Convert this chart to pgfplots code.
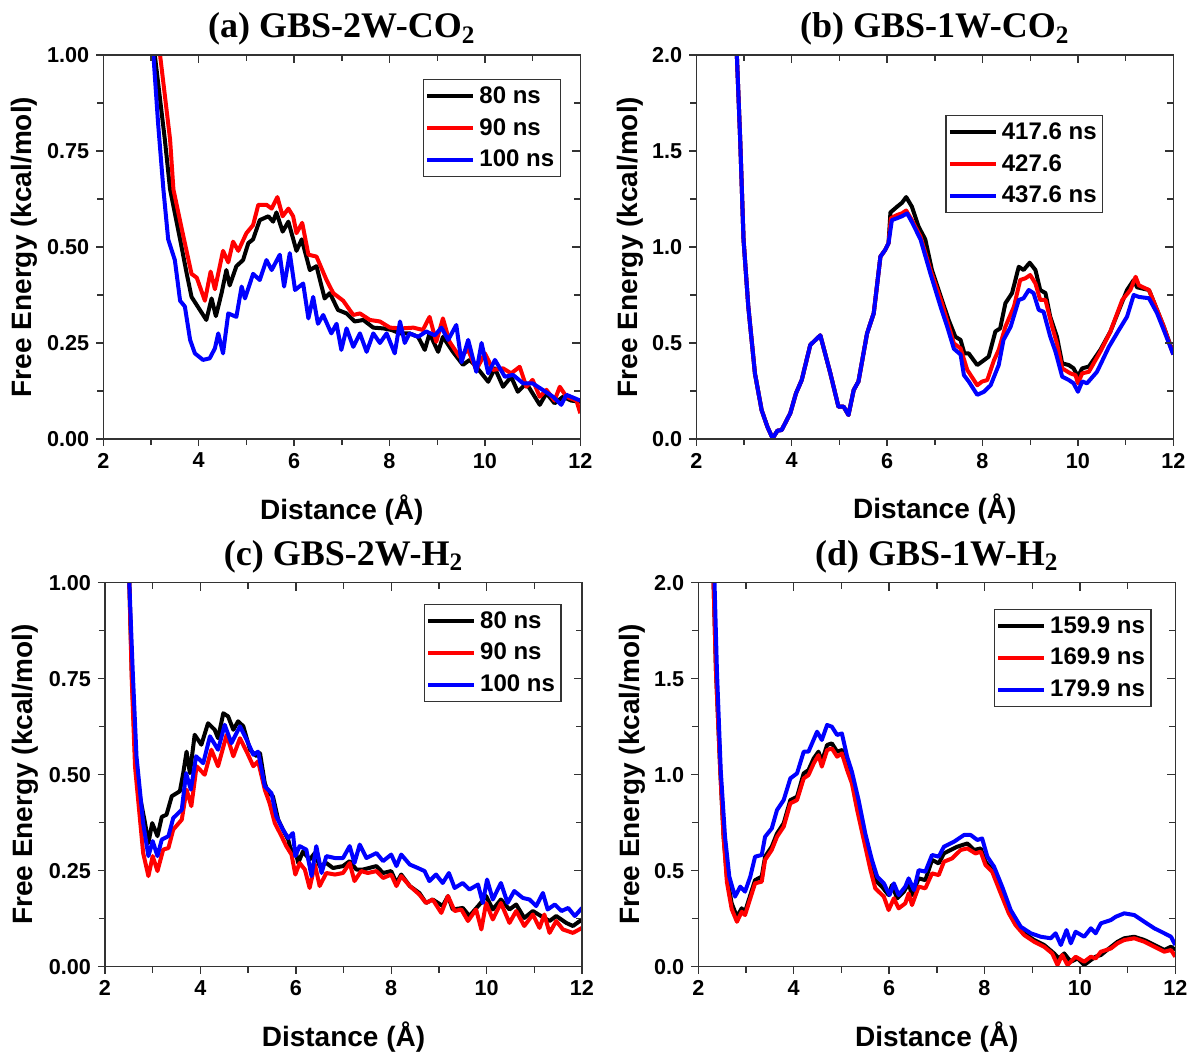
\documentclass[border=0pt]{standalone}
\usepackage{fontspec}
\setmainfont{Liberation Serif}
\setsansfont{Liberation Sans}
\usepackage{pgfplots}
\pgfplotsset{compat=1.18}
\pgfplotsset{
  base/.style={scale only axis, width=238.5pt, height=192pt, xmin=2, xmax=12,
    xtick={2,4,6,8,10,12}, minor x tick num=1, minor y tick num=1,
    axis line style={black!80, line width=0.7pt},
    every tick/.style={black!80, line width=0.7pt},
    major tick length=3.5pt, minor tick length=3pt},
  main/.style={base, tick align=outside, xtick pos=left, ytick pos=left,
    ticklabel style={font=\sffamily\bfseries\fontsize{10.8}{12}\selectfont},
    /pgf/number format/assume math mode=true,
    xlabel={Distance (Å)}, ylabel={Free Energy (kcal/mol)},
    label style={font=\sffamily\bfseries\fontsize{14}{16}\selectfont},
    xlabel style={at={(axis description cs:0.5,0)}, anchor=base, yshift=-40pt},
    title style={font=\bfseries\fontsize{18}{20}\selectfont, at={(axis description cs:0.5,1)}, anchor=base, yshift=2.5pt},
    legend cell align=left,
    legend style={draw=black!80, line width=0.6pt, font=\sffamily\bfseries\fontsize{12}{14}\selectfont,
      anchor=north west, inner xsep=1pt, inner ysep=1.5pt, row sep=2pt},
    legend image code/.code={\draw[#1] (0pt,0pt) -- (23pt,0pt);},
    every axis plot/.append style={line width=2pt, line join=round}},
  mirror/.style={base, tick align=inside, xtick pos=right, ytick pos=right,
    xticklabels={}, yticklabels={}, major tick length=4pt},
  twod/.style={ymin=0, ymax=1, ytick={0,0.25,0.5,0.75,1},
    yticklabel style={/pgf/number format/.cd, fixed, fixed zerofill, precision=2}},
  oned/.style={ymin=0, ymax=2, ytick={0,0.5,1,1.5,2},
    yticklabel style={/pgf/number format/.cd, fixed, fixed zerofill, precision=1}},
}
\begin{document}
\begin{tikzpicture}
\path[use as bounding box] (0pt,0pt) rectangle (595pt,-526.5pt);
% ---------------- (a)
\begin{axis}[main, twod, at={(51.65pt,-27.5pt)}, anchor=north west,
  title={(a) GBS-2W-CO\textsubscript{2}},
  ylabel style={at={(axis description cs:-0.165,0.5)}, anchor=center},
  legend style={at={(0.67,0.9375)}}]
\addplot[black] coordinates {(3.06,1.05) (3.08,1.0) (3.29,0.78) (3.40,0.65) (3.61,0.52) (3.75,0.43) (3.85,0.37) (4.16,0.31) (4.27,0.366) (4.36,0.32) (4.48,0.38) (4.58,0.44) (4.65,0.40) (4.79,0.45) (4.93,0.466) (5.04,0.51) (5.14,0.52) (5.28,0.57) (5.46,0.58) (5.56,0.566) (5.63,0.59) (5.76,0.54) (5.88,0.566) (6.05,0.49) (6.16,0.52) (6.33,0.44) (6.47,0.45) (6.64,0.366) (6.75,0.38) (6.92,0.336) (7.10,0.327) (7.27,0.306) (7.45,0.31) (7.66,0.29) (7.87,0.288) (8.04,0.284) (8.22,0.275) (8.42,0.275) (8.60,0.266) (8.74,0.232) (8.84,0.275) (9.02,0.227) (9.12,0.266) (9.33,0.227) (9.54,0.193) (9.68,0.206) (9.82,0.188) (10.07,0.149) (10.21,0.184) (10.38,0.136) (10.55,0.162) (10.69,0.123) (10.87,0.145) (11.0,0.119) (11.15,0.089) (11.29,0.119) (11.46,0.093) (11.64,0.11) (11.81,0.10) (12.0,0.097)};
\addlegendentry{80 ns}
\addplot[red] coordinates {(3.17,1.05) (3.19,1.0) (3.40,0.78) (3.47,0.65) (3.64,0.55) (3.85,0.43) (3.96,0.42) (4.13,0.36) (4.25,0.436) (4.34,0.39) (4.51,0.49) (4.62,0.46) (4.72,0.514) (4.83,0.49) (5.0,0.536) (5.14,0.557) (5.25,0.61) (5.42,0.61) (5.53,0.60) (5.65,0.63) (5.76,0.58) (5.88,0.60) (5.98,0.58) (6.05,0.536) (6.17,0.563) (6.30,0.48) (6.47,0.475) (6.68,0.414) (6.82,0.38) (7.03,0.36) (7.24,0.323) (7.38,0.327) (7.59,0.31) (7.80,0.306) (8.01,0.29) (8.26,0.288) (8.50,0.29) (8.70,0.284) (8.84,0.318) (8.98,0.253) (9.12,0.314) (9.26,0.253) (9.47,0.214) (9.65,0.232) (9.82,0.18) (10.0,0.223) (10.17,0.18) (10.38,0.184) (10.55,0.171) (10.73,0.188) (10.87,0.136) (11.0,0.154) (11.15,0.11) (11.29,0.128) (11.46,0.10) (11.57,0.136) (11.71,0.11) (11.92,0.10) (12.0,0.067)};
\addlegendentry{90 ns}
\addplot[blue] coordinates {(3.04,1.05) (3.05,1.0) (3.15,0.82) (3.26,0.65) (3.36,0.52) (3.50,0.466) (3.61,0.36) (3.71,0.345) (3.82,0.258) (3.92,0.223) (4.09,0.206) (4.23,0.21) (4.34,0.236) (4.41,0.275) (4.51,0.223) (4.62,0.327) (4.79,0.318) (4.90,0.397) (4.97,0.366) (5.14,0.43) (5.28,0.414) (5.42,0.466) (5.53,0.44) (5.70,0.48) (5.79,0.397) (5.91,0.484) (6.02,0.388) (6.19,0.405) (6.30,0.314) (6.40,0.37) (6.50,0.30) (6.61,0.323) (6.78,0.275) (6.89,0.30) (6.99,0.232) (7.10,0.288) (7.24,0.24) (7.38,0.275) (7.52,0.227) (7.66,0.275) (7.80,0.25) (7.94,0.275) (8.11,0.223) (8.22,0.306) (8.32,0.25) (8.42,0.275) (8.60,0.266) (8.77,0.28) (8.95,0.27) (9.09,0.29) (9.23,0.258) (9.40,0.297) (9.51,0.20) (9.65,0.258) (9.82,0.175) (9.93,0.25) (10.07,0.171) (10.21,0.206) (10.42,0.162) (10.59,0.167) (10.80,0.145) (11.0,0.145) (11.21,0.128) (11.43,0.11) (11.60,0.089) (11.71,0.115) (12.0,0.10)};
\addlegendentry{100 ns}
\end{axis}
\begin{axis}[mirror, twod, at={(51.65pt,-27.5pt)}, anchor=north west]
\end{axis}
% ---------------- (b)
\begin{axis}[main, oned, at={(348.15pt,-27.5pt)}, anchor=north west,
  title={(b) GBS-1W-CO\textsubscript{2}},
  ylabel style={at={(axis description cs:-0.139,0.5)}, anchor=center},
  legend style={at={(0.522,0.844)}}]
\addplot[black] coordinates {(2.84,2.1) (2.85,2.0) (2.92,1.56) (2.99,1.04) (3.09,0.69) (3.23,0.34) (3.37,0.15) (3.49,0.064) (3.60,0.003) (3.70,0.043) (3.79,0.047) (3.97,0.134) (4.09,0.238) (4.21,0.307) (4.39,0.49) (4.60,0.54) (4.81,0.342) (4.98,0.168) (5.09,0.168) (5.19,0.125) (5.30,0.255) (5.40,0.30) (5.58,0.55) (5.72,0.655) (5.86,0.95) (5.96,0.985) (6.03,1.02) (6.07,1.18) (6.21,1.21) (6.31,1.23) (6.40,1.26) (6.52,1.21) (6.66,1.106) (6.80,1.04) (6.94,0.88) (7.15,0.724) (7.29,0.62) (7.43,0.533) (7.54,0.516) (7.62,0.446) (7.71,0.446) (7.89,0.385) (7.99,0.403) (8.13,0.429) (8.27,0.56) (8.37,0.576) (8.48,0.707) (8.62,0.76) (8.76,0.897) (8.86,0.88) (8.99,0.918) (9.11,0.88) (9.21,0.776) (9.32,0.76) (9.42,0.637) (9.56,0.533) (9.67,0.394) (9.81,0.385) (9.91,0.368) (10.0,0.325) (10.09,0.368) (10.23,0.377) (10.47,0.464) (10.68,0.559) (10.89,0.69) (11.03,0.776) (11.17,0.828) (11.24,0.79) (11.49,0.776) (11.66,0.672) (11.80,0.585) (12.0,0.446)};
\addlegendentry{417.6 ns}
\addplot[red] coordinates {(2.84,2.1) (2.85,2.0) (2.92,1.56) (2.99,1.04) (3.09,0.69) (3.23,0.34) (3.37,0.15) (3.49,0.064) (3.60,0.003) (3.70,0.043) (3.79,0.047) (3.97,0.134) (4.09,0.238) (4.21,0.307) (4.39,0.49) (4.60,0.54) (4.81,0.342) (4.98,0.168) (5.09,0.168) (5.19,0.125) (5.30,0.255) (5.40,0.30) (5.58,0.55) (5.72,0.655) (5.86,0.95) (5.96,0.985) (6.03,1.02) (6.08,1.15) (6.21,1.167) (6.31,1.175) (6.40,1.19) (6.52,1.14) (6.70,1.054) (6.91,0.88) (7.15,0.707) (7.40,0.498) (7.54,0.472) (7.68,0.36) (7.89,0.28) (7.99,0.299) (8.10,0.307) (8.24,0.41) (8.34,0.464) (8.48,0.585) (8.66,0.69) (8.79,0.828) (8.90,0.837) (9.00,0.854) (9.11,0.81) (9.21,0.724) (9.32,0.724) (9.46,0.585) (9.56,0.498) (9.67,0.368) (9.84,0.342) (9.95,0.333) (10.0,0.29) (10.09,0.342) (10.23,0.35) (10.47,0.455) (10.68,0.559) (10.93,0.724) (11.10,0.776) (11.21,0.845) (11.28,0.80) (11.49,0.776) (11.66,0.672) (11.80,0.585) (12.0,0.44)};
\addlegendentry{427.6}
\addplot[blue] coordinates {(2.84,2.1) (2.85,2.0) (2.92,1.56) (2.99,1.04) (3.09,0.69) (3.23,0.34) (3.37,0.15) (3.49,0.064) (3.60,0.003) (3.70,0.043) (3.79,0.047) (3.97,0.134) (4.09,0.238) (4.21,0.307) (4.39,0.49) (4.60,0.54) (4.81,0.342) (4.98,0.168) (5.09,0.168) (5.19,0.125) (5.30,0.255) (5.40,0.30) (5.58,0.55) (5.72,0.655) (5.86,0.95) (5.96,0.985) (6.03,1.02) (6.10,1.14) (6.21,1.15) (6.31,1.16) (6.42,1.175) (6.52,1.13) (6.70,1.04) (6.91,0.86) (7.12,0.69) (7.26,0.585) (7.40,0.47) (7.54,0.44) (7.61,0.333) (7.71,0.30) (7.89,0.23) (8.03,0.246) (8.17,0.28) (8.27,0.342) (8.34,0.385) (8.44,0.516) (8.59,0.585) (8.76,0.724) (8.86,0.733) (8.97,0.776) (9.07,0.76) (9.18,0.672) (9.28,0.663) (9.42,0.533) (9.53,0.455) (9.67,0.325) (9.81,0.307) (9.91,0.29) (10.0,0.246) (10.09,0.30) (10.19,0.29) (10.40,0.35) (10.65,0.48) (10.86,0.568) (11.03,0.637) (11.17,0.75) (11.28,0.74) (11.49,0.733) (11.66,0.655) (11.80,0.568) (12.0,0.44)};
\addlegendentry{437.6 ns}
\end{axis}
\begin{axis}[mirror, oned, at={(348.15pt,-27.5pt)}, anchor=north west]
\end{axis}
% ---------------- (c)
\begin{axis}[main, twod, at={(52.5pt,-291.35pt)}, anchor=north west,
  title={(c) GBS-2W-H\textsubscript{2}},
  ylabel style={at={(axis description cs:-0.167,0.5)}, anchor=center},
  legend style={at={(0.668,0.945)}}]
\addplot[black] coordinates {(2.50,1.05) (2.51,1.0) (2.56,0.773) (2.63,0.556) (2.73,0.444) (2.84,0.374) (2.91,0.322) (2.99,0.374) (3.10,0.34) (3.19,0.39) (3.29,0.396) (3.40,0.444) (3.57,0.457) (3.64,0.504) (3.71,0.56) (3.78,0.504) (3.88,0.604) (4.02,0.578) (4.16,0.634) (4.30,0.617) (4.37,0.595) (4.48,0.66) (4.58,0.652) (4.69,0.617) (4.79,0.639) (4.90,0.626) (5.04,0.565) (5.18,0.548) (5.25,0.556) (5.35,0.478) (5.42,0.452) (5.52,0.444) (5.63,0.383) (5.73,0.357) (5.84,0.331) (5.91,0.296) (5.98,0.309) (6.05,0.27) (6.15,0.30) (6.29,0.279) (6.40,0.296) (6.50,0.262) (6.64,0.27) (6.78,0.257) (6.99,0.262) (7.13,0.275) (7.27,0.253) (7.41,0.253) (7.69,0.262) (7.83,0.244) (8.0,0.249) (8.11,0.218) (8.21,0.24) (8.39,0.21) (8.59,0.192) (8.73,0.166) (8.87,0.175) (9.08,0.158) (9.19,0.184) (9.29,0.149) (9.50,0.153) (9.64,0.132) (9.85,0.162) (9.99,0.184) (10.13,0.149) (10.30,0.175) (10.48,0.149) (10.62,0.162) (10.79,0.127) (10.97,0.145) (11.14,0.132) (11.32,0.119) (11.46,0.132) (11.67,0.114) (11.81,0.106) (12.0,0.123)};
\addlegendentry{80 ns}
\addplot[red] coordinates {(2.50,1.05) (2.51,1.0) (2.56,0.75) (2.63,0.52) (2.80,0.296) (2.91,0.236) (3.0,0.288) (3.10,0.249) (3.22,0.305) (3.33,0.309) (3.43,0.357) (3.61,0.383) (3.71,0.461) (3.81,0.418) (3.92,0.522) (4.09,0.50) (4.23,0.565) (4.37,0.522) (4.55,0.604) (4.69,0.548) (4.83,0.595) (4.97,0.56) (5.11,0.522) (5.21,0.535) (5.35,0.461) (5.45,0.426) (5.56,0.374) (5.70,0.34) (5.80,0.314) (5.91,0.292) (5.99,0.24) (6.08,0.27) (6.19,0.253) (6.29,0.205) (6.40,0.266) (6.50,0.21) (6.64,0.244) (6.82,0.24) (6.99,0.244) (7.13,0.27) (7.23,0.223) (7.37,0.249) (7.51,0.244) (7.69,0.249) (7.83,0.231) (8.0,0.24) (8.11,0.21) (8.21,0.236) (8.39,0.21) (8.59,0.188) (8.73,0.166) (8.87,0.175) (9.05,0.14) (9.19,0.184) (9.33,0.145) (9.47,0.149) (9.61,0.119) (9.78,0.149) (9.89,0.097) (9.99,0.166) (10.13,0.123) (10.30,0.166) (10.48,0.114) (10.62,0.145) (10.79,0.106) (10.97,0.136) (11.11,0.101) (11.21,0.136) (11.32,0.088) (11.46,0.119) (11.60,0.097) (11.81,0.088) (12.0,0.101)};
\addlegendentry{90 ns}
\addplot[blue] coordinates {(2.50,1.05) (2.51,1.0) (2.58,0.773) (2.66,0.548) (2.80,0.374) (2.91,0.288) (3.0,0.327) (3.10,0.288) (3.19,0.331) (3.33,0.34) (3.43,0.387) (3.61,0.409) (3.70,0.504) (3.80,0.461) (3.91,0.548) (4.06,0.53) (4.20,0.60) (4.37,0.565) (4.51,0.63) (4.65,0.582) (4.83,0.626) (4.97,0.591) (5.11,0.552) (5.21,0.56) (5.35,0.47) (5.49,0.452) (5.59,0.392) (5.73,0.357) (5.84,0.335) (5.94,0.348) (5.99,0.288) (6.08,0.314) (6.22,0.305) (6.33,0.236) (6.43,0.314) (6.54,0.244) (6.64,0.288) (6.82,0.283) (6.99,0.283) (7.13,0.314) (7.23,0.27) (7.34,0.318) (7.48,0.283) (7.69,0.296) (7.83,0.275) (8.0,0.292) (8.11,0.262) (8.21,0.292) (8.39,0.266) (8.56,0.257) (8.70,0.249) (8.80,0.223) (8.94,0.24) (9.08,0.218) (9.21,0.244) (9.33,0.205) (9.50,0.218) (9.64,0.201) (9.82,0.214) (9.92,0.166) (10.01,0.227) (10.13,0.175) (10.30,0.218) (10.44,0.166) (10.58,0.197) (10.76,0.179) (10.90,0.175) (11.04,0.158) (11.18,0.192) (11.28,0.149) (11.43,0.162) (11.57,0.145) (11.71,0.153) (11.85,0.132) (12.0,0.153)};
\addlegendentry{100 ns}
\end{axis}
\begin{axis}[mirror, twod, at={(52.5pt,-291.35pt)}, anchor=north west]
\end{axis}
% ---------------- (d)
\begin{axis}[main, oned, at={(349.15pt,-291.35pt)}, anchor=north west,
  title={(d) GBS-1W-H\textsubscript{2}},
  ylabel style={at={(axis description cs:-0.139,0.5)}, anchor=center},
  legend style={at={(0.619,0.932)}}]
\addplot[black] coordinates {(2.31,2.1) (2.32,2.0) (2.37,1.545) (2.46,1.024) (2.53,0.677) (2.60,0.469) (2.70,0.33) (2.81,0.26) (2.91,0.304) (2.98,0.286) (3.09,0.373) (3.19,0.451) (3.33,0.469) (3.40,0.573) (3.54,0.625) (3.65,0.694) (3.79,0.747) (3.93,0.868) (4.07,0.885) (4.21,1.007) (4.31,1.024) (4.42,1.085) (4.52,1.12) (4.59,1.068) (4.70,1.155) (4.80,1.163) (4.91,1.12) (5.01,1.128) (5.12,1.042) (5.22,0.99) (5.33,0.851) (5.47,0.694) (5.61,0.573) (5.71,0.451) (5.85,0.417) (5.99,0.373) (6.06,0.425) (6.17,0.356) (6.31,0.391) (6.41,0.434) (6.48,0.373) (6.62,0.46) (6.76,0.451) (6.90,0.556) (7.04,0.538) (7.15,0.59) (7.29,0.608) (7.43,0.625) (7.64,0.642) (7.78,0.608) (7.92,0.616) (8.02,0.547) (8.16,0.503) (8.34,0.399) (8.51,0.295) (8.65,0.226) (8.83,0.174) (9.04,0.139) (9.25,0.113) (9.46,0.069) (9.56,0.043) (9.67,0.069) (9.81,0.026) (9.95,0.043) (10.09,0.009) (10.23,0.035) (10.33,0.052) (10.44,0.061) (10.61,0.095) (10.79,0.13) (10.93,0.148) (11.14,0.156) (11.35,0.139) (11.56,0.113) (11.77,0.087) (11.91,0.104) (12.0,0.087)};
\addlegendentry{159.9 ns}
\addplot[red] coordinates {(2.31,2.1) (2.32,2.0) (2.37,1.545) (2.46,1.024) (2.53,0.677) (2.60,0.44) (2.70,0.30) (2.81,0.234) (2.91,0.286) (2.98,0.269) (3.09,0.356) (3.19,0.434) (3.33,0.443) (3.40,0.556) (3.54,0.608) (3.65,0.677) (3.79,0.729) (3.93,0.851) (4.07,0.868) (4.21,0.981) (4.31,0.998) (4.42,1.059) (4.52,1.102) (4.59,1.042) (4.70,1.128) (4.80,1.137) (4.91,1.094) (5.01,1.111) (5.12,1.024) (5.22,0.955) (5.33,0.816) (5.47,0.66) (5.61,0.503) (5.71,0.408) (5.89,0.365) (5.99,0.295) (6.10,0.356) (6.20,0.304) (6.34,0.33) (6.41,0.382) (6.48,0.321) (6.62,0.417) (6.76,0.408) (6.90,0.486) (7.04,0.477) (7.15,0.547) (7.32,0.564) (7.50,0.608) (7.64,0.616) (7.81,0.59) (7.92,0.599) (8.02,0.53) (8.16,0.495) (8.34,0.382) (8.51,0.278) (8.65,0.217) (8.83,0.165) (9.04,0.13) (9.25,0.104) (9.42,0.069) (9.53,0.009) (9.63,0.061) (9.74,0.009) (9.91,0.052) (10.09,0.026) (10.23,0.052) (10.33,0.043) (10.44,0.078) (10.65,0.095) (10.79,0.122) (10.93,0.139) (11.14,0.148) (11.35,0.13) (11.56,0.104) (11.77,0.078) (11.91,0.087) (12.0,0.052)};
\addlegendentry{169.9 ns}
\addplot[blue] coordinates {(2.33,2.1) (2.34,2.0) (2.39,1.545) (2.47,1.024) (2.56,0.677) (2.65,0.469) (2.77,0.365) (2.88,0.417) (2.98,0.391) (3.09,0.469) (3.19,0.573) (3.33,0.582) (3.40,0.677) (3.54,0.72) (3.65,0.816) (3.79,0.868) (3.93,0.981) (4.07,1.007) (4.21,1.12) (4.31,1.12) (4.49,1.224) (4.59,1.181) (4.70,1.259) (4.80,1.25) (4.91,1.207) (5.01,1.215) (5.12,1.094) (5.22,1.016) (5.36,0.868) (5.50,0.694) (5.64,0.556) (5.75,0.469) (5.89,0.434) (6.01,0.373) (6.10,0.434) (6.20,0.373) (6.34,0.417) (6.41,0.46) (6.52,0.399) (6.62,0.503) (6.76,0.495) (6.90,0.582) (7.04,0.573) (7.15,0.625) (7.36,0.651) (7.57,0.686) (7.71,0.686) (7.85,0.66) (7.95,0.668) (8.06,0.573) (8.20,0.521) (8.37,0.417) (8.55,0.295) (8.76,0.208) (8.97,0.174) (9.18,0.156) (9.39,0.148) (9.49,0.174) (9.60,0.113) (9.72,0.191) (9.81,0.122) (9.91,0.182) (10.09,0.156) (10.23,0.2) (10.33,0.174) (10.44,0.226) (10.65,0.243) (10.75,0.26) (10.93,0.278) (11.14,0.269) (11.35,0.234) (11.56,0.2) (11.77,0.174) (11.91,0.156) (12.0,0.113)};
\addlegendentry{179.9 ns}
\end{axis}
\begin{axis}[mirror, oned, at={(349.15pt,-291.35pt)}, anchor=north west]
\end{axis}
\end{tikzpicture}
\end{document}
